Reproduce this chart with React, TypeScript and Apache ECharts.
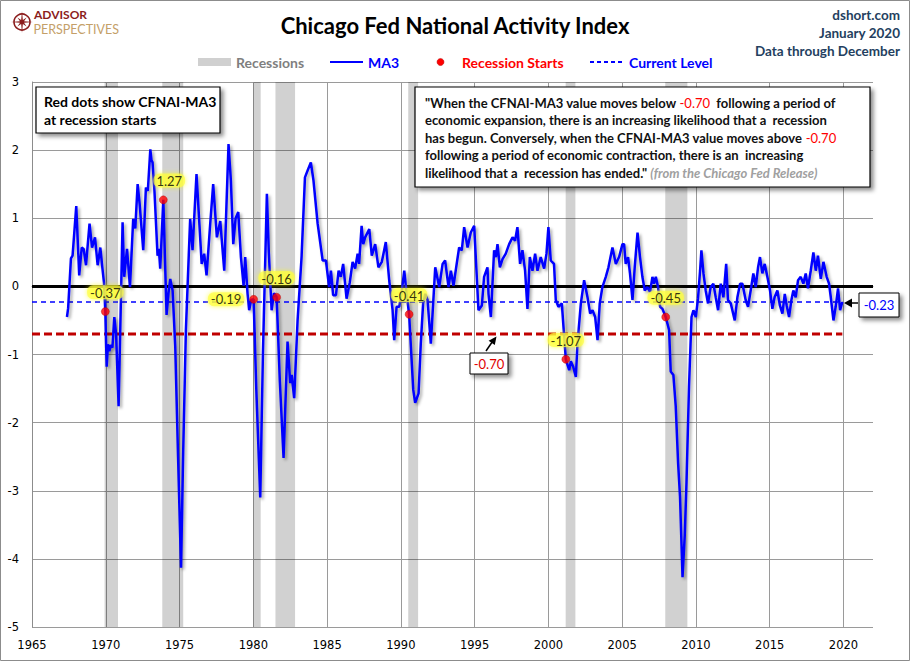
import React, { useEffect, useRef } from "react";
import * as echarts from "echarts";

// ---------- DATA ----------
const ma3Years = [
  1967.37, 1967.45, 1967.64, 1967.75, 1968.0, 1968.2, 1968.37, 1968.5, 1968.66, 1968.9,
  1969.07, 1969.27, 1969.45, 1969.63, 1969.79, 1969.88, 1969.97, 1970.06, 1970.15, 1970.24,
  1970.35, 1970.45, 1970.58, 1970.7, 1970.87, 1971.14, 1971.25, 1971.44, 1971.64, 1971.86,
  1972.0, 1972.16, 1972.3, 1972.54, 1972.72, 1972.85, 1973.02, 1973.1, 1973.17, 1973.3,
  1973.51, 1973.6, 1973.69, 1973.9, 1974.12, 1974.25, 1974.37, 1974.53, 1974.71, 1974.9,
  1975.1, 1975.25, 1975.43, 1975.72, 1975.88, 1976.15, 1976.35, 1976.5, 1976.67, 1976.83,
  1977.08, 1977.28, 1977.53, 1977.76, 1978.03, 1978.32, 1978.48, 1978.64, 1978.8, 1978.98,
  1979.16, 1979.34, 1979.45, 1979.61, 1979.72, 1979.85, 1980.02, 1980.2, 1980.47, 1980.65,
  1980.92, 1981.05, 1981.24, 1981.4, 1981.58, 1981.8, 1982.05, 1982.32, 1982.5, 1982.6,
  1982.77, 1983.0, 1983.27, 1983.5, 1983.68, 1983.9, 1984.08, 1984.36, 1984.7, 1984.92,
  1985.14, 1985.26, 1985.41, 1985.6, 1985.78, 1985.93, 1986.09, 1986.32, 1986.54, 1986.73,
  1986.9, 1987.07, 1987.17, 1987.34, 1987.45, 1987.58, 1987.86, 1988.03, 1988.26, 1988.48,
  1988.71, 1988.98, 1989.21, 1989.44, 1989.55, 1989.71, 1989.89, 1990.07, 1990.23, 1990.39,
  1990.56, 1990.84, 1990.97, 1991.2, 1991.35, 1991.51, 1991.65, 1991.81, 1992.03, 1992.19,
  1992.33, 1992.6, 1992.83, 1993.0, 1993.23, 1993.39, 1993.57, 1993.77, 1993.95, 1994.13,
  1994.29, 1994.52, 1994.74, 1994.97, 1995.26, 1995.49, 1995.64, 1995.87, 1995.94, 1996.1,
  1996.32, 1996.44, 1996.55, 1996.71, 1996.89, 1997.11, 1997.34, 1997.57, 1997.74, 1997.9,
  1998.08, 1998.24, 1998.42, 1998.58, 1998.74, 1998.92, 1999.1, 1999.26, 1999.48, 1999.71,
  1999.87, 2000.0, 2000.16, 2000.38, 2000.5, 2000.68, 2000.91, 2001.07, 2001.18, 2001.41,
  2001.52, 2001.68, 2001.86, 2001.97, 2002.2, 2002.42, 2002.65, 2002.83, 2002.99, 2003.17,
  2003.33, 2003.48, 2003.66, 2003.89, 2004.07, 2004.34, 2004.57, 2004.79, 2005.02, 2005.13,
  2005.24, 2005.4, 2005.53, 2005.7, 2005.85, 2006.04, 2006.21, 2006.37, 2006.53, 2006.71,
  2006.89, 2007.05, 2007.16, 2007.28, 2007.43, 2007.57, 2007.73, 2007.95, 2008.18, 2008.29,
  2008.47, 2008.63, 2008.79, 2008.92, 2009.09, 2009.24, 2009.36, 2009.53, 2009.7, 2009.83,
  2009.99, 2010.14, 2010.28, 2010.37, 2010.51, 2010.66, 2010.82, 2011.0, 2011.18, 2011.34,
  2011.5, 2011.68, 2011.86, 2012.05, 2012.17, 2012.36, 2012.63, 2012.81, 2012.99, 2013.15,
  2013.37, 2013.53, 2013.71, 2013.89, 2014.05, 2014.21, 2014.34, 2014.5, 2014.66, 2014.84,
  2015.02, 2015.18, 2015.33, 2015.52, 2015.69, 2015.86, 2016.02, 2016.15, 2016.31, 2016.47,
  2016.6, 2016.76, 2016.92, 2017.1, 2017.28, 2017.44, 2017.59, 2017.78, 2017.96, 2018.12,
  2018.27, 2018.46, 2018.64, 2018.86, 2019.02, 2019.14, 2019.32, 2019.47, 2019.63, 2019.77,
  2019.92,
];

const ma3Values = [
  -0.45, -0.32, 0.41, 0.45, 1.18, 0.16, 0.57, 0.55, 0.31, 0.92,
  0.57, 0.72, 0.31, 0.57, 0.23, 0.05, -0.37, -1.18, -0.85, -0.95,
  -0.86, -0.9, -0.45, -0.7, -1.76, 0.94, 0.14, 0.55, -0.01, 0.99,
  0.85, 1.5, 1.2, 0.53, 1.45, 1.4, 2.01, 1.85, 1.82, 1.4,
  0.45, 0.55, 0.26, 1.27, -0.42, -0.1, 0.11, -0.06, -0.89, -2.5,
  -4.13, -2.4, -0.64, 0.99, 0.53, 1.65, 0.9, 0.33, 0.48, 0.16,
  0.92, 1.5, 0.72, 0.96, 0.23, 2.09, 1.55, 0.62, 1.0, 1.09,
  0.43, 0.01, 0.43, -0.11, -0.35, -0.2, -0.19, -1.5, -3.1, -1.0,
  1.36, 0.5, -0.35, -0.1, -0.16, -1.4, -2.52, -0.81, -1.42, -1.3,
  -1.64, -0.5, 0.43, 1.6, 1.7, 1.82, 1.55, 0.92, 0.38, 0.38,
  -0.01, 0.23, -0.13, -0.13, 0.23, 0.14, 0.33, -0.18, 0.06, 0.36,
  0.26, 0.48, 0.33, 0.89, 0.62, 0.72, 0.84, 0.45, 0.62, 0.28,
  0.36, 0.65, 0.09, -0.35, -0.79, -0.3, -0.3, -0.06, 0.23, -0.11,
  -0.41, -1.52, -1.71, -1.57, -0.84, -0.25, -0.11, -0.2, -0.84, -0.25,
  0.28, -0.01, 0.33, 0.38, -0.01, 0.23, 0.01, 0.31, 0.57, 0.53,
  0.87, 0.57, 0.79, 0.89, -0.35, -0.28, 0.14, 0.28, -0.11, -0.45,
  0.53, 0.43, 0.62, 0.28, 0.4, 0.48, 0.62, 0.72, 0.67, 0.87,
  0.33, 0.53, 0.23, -0.33, 0.43, 0.23, 0.48, 0.23, 0.43, 0.26,
  0.48, 0.87, 0.38, 0.33, -0.2, -0.3, -0.25, -0.74, -1.07, -1.23,
  -1.1, -1.18, -1.33, -0.84, -0.25, 0.09, -0.16, -0.4, -0.35, -0.45,
  -0.79, -0.25, -0.01, 0.14, 0.28, 0.57, 0.33, 0.43, 0.62, 0.62,
  0.33, 0.43, 0.19, -0.2, 0.28, 0.79, 0.43, 0.14, -0.06, -0.01,
  -0.08, 0.14, 0.04, 0.14, -0.01, -0.3, -0.33, -0.45, -0.64, -1.25,
  -1.3, -1.76, -2.59, -3.08, -4.27, -3.66, -2.88, -1.47, -0.45, -0.35,
  -0.45, -0.18, 0.23, 0.53, 0.19, -0.06, -0.25, -0.01, 0.04, -0.16,
  -0.35, 0.04, -0.16, 0.33, -0.2, -0.25, -0.5, -0.16, 0.04, 0.04,
  -0.2, -0.3, -0.06, 0.19, -0.01, 0.28, 0.43, 0.19, 0.33, 0.14,
  -0.06, -0.33, -0.16, -0.06, -0.28, -0.4, -0.11, -0.28, -0.45, -0.2,
  -0.06, -0.16, 0.09, 0.14, 0.04, 0.19, -0.03, 0.23, 0.5, 0.23,
  0.45, 0.11, 0.36, 0.14, 0.04, -0.16, -0.5, -0.3, -0.03, -0.35,
  -0.23,
];

const recessionStartYears = [1969.97, 1973.9, 1980.02, 1981.58, 1990.56, 2001.18, 2007.95];
const recessionStartValues = [-0.37, 1.27, -0.19, -0.16, -0.41, -1.07, -0.45];

const recessionStarts = [1969.92, 1973.83, 1980.0, 1981.5, 1990.5, 2001.17, 2007.92];
const recessionEnds = [1970.83, 1975.25, 1980.5, 1982.83, 1991.17, 2001.83, 2009.42];

const thresholdLevel = -0.7;
const currentLevel = -0.23;

const xMin = 1965;
const xMax = 2022;
const xStep = 5;
const yMin = -5;
const yMax = 3;
const yStep = 1;

const titleText = "Chicago Fed National Activity Index";
const sourceLines = ["dshort.com", "January 2020", "Data through December"];
const legendNames = ["Recessions", "MA3", "Recession Starts", "Current Level"];

// ---------- STYLE ----------
const FONT = 'Lato, "Noto Sans", "Liberation Sans", sans-serif';
const AXIS_FONT = '"DejaVu Sans", "Liberation Sans", sans-serif';

function compassStar(cx: number, cy: number) {
  const pts: number[][] = [];
  for (let i = 0; i < 16; i++) {
    const a = (i * Math.PI) / 8 - Math.PI / 2;
    let r = 2.2;
    if (i % 4 === 0) r = 11;
    else if (i % 2 === 0) r = 6.5;
    pts.push([cx + r * Math.cos(a), cy + r * Math.sin(a)]);
  }
  return pts;
}

export default function App() {
  const ref = useRef<HTMLDivElement>(null);

  useEffect(() => {
    document.body.style.margin = "0";
    if (!ref.current) return;
    const chart = echarts.init(ref.current, null, { renderer: "svg" });

    const lastYear = ma3Years[ma3Years.length - 1];
    const ma3Data = ma3Years.map((y, i) => [y, ma3Values[i]]);

    const boxShadow = {
      shadowBlur: 4,
      shadowOffsetX: 3,
      shadowOffsetY: 3,
      shadowColor: "rgba(0,0,0,0.45)",
    };

    const quoteLines =
      '{b|"When the CFNAI-MA3 value moves below }{r|' + thresholdLevel.toFixed(2) + '}{b|  following a period of}\n' +
      "{b|economic expansion, there is an increasing likelihood that a  recession}\n" +
      "{b|has begun. Conversely, when the CFNAI-MA3 value moves above }{r|" + thresholdLevel.toFixed(2) + "}\n" +
      "{b|following a period of economic contraction, there is an  increasing}\n" +
      '{b|likelihood that a  recession has ended." }{g|(from the Chicago Fed Release)}';

    const legendY = 62;

    const option: any = {
      animation: false,
      backgroundColor: "#ffffff",
      grid: { left: 32, right: 37, top: 82, bottom: 34, containLabel: false },
      xAxis: {
        type: "value",
        min: xMin,
        max: xMax,
        interval: xStep,
        axisLine: { show: true, lineStyle: { color: "#8c8c8c", width: 1 } },
        axisTick: { show: false },
        axisLabel: {
          color: "#000",
          fontFamily: AXIS_FONT,
          fontSize: 11.5,
          margin: 12,
          showMaxLabel: false,
          formatter: (v: number) => (v % xStep === 0 ? String(v) : ""),
        },
        splitLine: {
          show: true,
          showMaxLine: false,
          lineStyle: { color: "#9a9a9a", width: 1 },
        },
      },
      yAxis: {
        type: "value",
        min: yMin,
        max: yMax,
        interval: yStep,
        axisLine: { show: true, lineStyle: { color: "#8c8c8c", width: 1 } },
        axisTick: { show: false },
        axisLabel: {
          color: "#000",
          fontFamily: AXIS_FONT,
          fontSize: 11.5,
          margin: 13,
          formatter: (v: number) => String(v),
        },
        splitLine: { show: true, lineStyle: { color: "#9a9a9a", width: 1 } },
      },
      series: [
        {
          name: "Recessions",
          type: "line",
          data: [],
          z: 1,
          silent: true,
          markArea: {
            silent: true,
            itemStyle: { color: "rgba(0,0,0,0.18)" },
            data: recessionStarts.map((s, i) => [{ xAxis: s }, { xAxis: recessionEnds[i] }]),
          },
        },
        {
          name: "Zero",
          type: "line",
          data: [[xMin, 0], [xMax, 0]],
          symbol: "none",
          z: 3,
          silent: true,
          lineStyle: { color: "#000", width: 3 },
        },
        {
          name: "Threshold",
          type: "line",
          data: [[xMin, thresholdLevel], [lastYear, thresholdLevel]],
          symbol: "none",
          z: 3,
          silent: true,
          lineStyle: { color: "#C00000", width: 3, type: [8, 4] },
        },
        {
          name: "Current Level",
          type: "line",
          data: [[xMin, currentLevel], [lastYear, currentLevel]],
          symbol: "none",
          z: 3,
          silent: true,
          lineStyle: { color: "#0000FF", width: 1.5, type: [5, 4] },
        },
        {
          name: "MA3",
          type: "line",
          data: ma3Data,
          symbol: "none",
          z: 4,
          lineStyle: {
            color: "#0000FF",
            width: 2.5,
            shadowColor: "rgba(0,0,0,0.35)",
            shadowBlur: 3,
            shadowOffsetX: 2,
            shadowOffsetY: 2,
          },
        },
        {
          name: "Recession Starts",
          type: "scatter",
          z: 6,
          symbolSize: 8,
          itemStyle: { color: "#FF0000", borderColor: "#B00000", borderWidth: 0.5 },
          data: recessionStartYears.map((y, i) => ({
            value: [y, recessionStartValues[i]],
            label: {
              position: i === 2 ? "left" : "top",
              distance: i === 2 ? 5 : 8,
              offset: i === 1 ? [6, 0] : [0, 0],
            },
          })),
          label: {
            show: true,
            distance: 8,
            formatter: (p: any) => Number(p.value[1]).toFixed(2),
            color: "#000",
            fontFamily: FONT,
            fontSize: 13,
            backgroundColor: "rgba(255,255,60,0.85)",
            borderRadius: 6,
            padding: [1, 3, 0, 3],
            shadowBlur: 5,
            shadowColor: "rgba(255,255,0,0.9)",
          },
        },
      ],
      graphic: [
        // outer border
        {
          type: "rect",
          silent: true,
          z: 100,
          shape: { x: 0.5, y: 0.5, width: 909, height: 660 },
          style: { fill: "none", stroke: "#8c8c8c", lineWidth: 1 },
        },
        // logo
        {
          type: "circle",
          shape: { cx: 22, cy: 22, r: 8 },
          style: { fill: "none", stroke: "#8B1C1C", lineWidth: 1.6 },
        },
        {
          type: "polygon",
          shape: { points: compassStar(22, 22) },
          style: { fill: "#8B1C1C" },
        },
        {
          type: "text",
          x: 34,
          y: 14.5,
          style: {
            text: "ADVISOR",
            fill: "#8B1C1C",
            font: "bold 12px " + FONT,
            verticalAlign: "middle",
          },
        },
        {
          type: "text",
          x: 33.5,
          y: 29,
          style: {
            text: "PERSPECTIVES",
            fill: "#C4A068",
            font: "12.5px " + FONT,
            verticalAlign: "middle",
          },
        },
        // title
        {
          type: "text",
          x: 455,
          y: 25,
          style: {
            text: titleText,
            fill: "#000",
            font: "bold 22px " + FONT,
            align: "center",
            verticalAlign: "middle",
          },
        },
        // source lines
        ...sourceLines.map((t, i) => ({
          type: "text",
          x: 900,
          y: 15 + i * 18,
          style: {
            text: t,
            fill: "#243F60",
            font: "bold 13.5px " + FONT,
            align: "right",
            verticalAlign: "middle",
          },
        })),
        // legend
        {
          type: "rect",
          shape: { x: 198, y: legendY - 4, width: 33, height: 8 },
          style: { fill: "#D0D0D0" },
        },
        {
          type: "text",
          x: 236,
          y: legendY,
          style: { text: legendNames[0], fill: "#7F7F7F", font: "bold 14px " + FONT, verticalAlign: "middle" },
        },
        {
          type: "line",
          shape: { x1: 330, y1: legendY, x2: 363, y2: legendY },
          style: { stroke: "#0000FF", lineWidth: 2 },
        },
        {
          type: "text",
          x: 368,
          y: legendY,
          style: { text: legendNames[1], fill: "#0000FF", font: "bold 14px " + FONT, verticalAlign: "middle" },
        },
        {
          type: "circle",
          shape: { cx: 440.5, cy: legendY, r: 3.5 },
          style: { fill: "#FF0000", stroke: "#B00000", lineWidth: 0.5 },
        },
        {
          type: "text",
          x: 462,
          y: legendY,
          style: { text: legendNames[2], fill: "#FF0000", font: "bold 14px " + FONT, verticalAlign: "middle" },
        },
        {
          type: "line",
          shape: { x1: 590, y1: legendY, x2: 625, y2: legendY },
          style: { stroke: "#0000FF", lineWidth: 2, lineDash: [4, 3] },
        },
        {
          type: "text",
          x: 629,
          y: legendY,
          style: { text: legendNames[3], fill: "#0000FF", font: "bold 14px " + FONT, verticalAlign: "middle" },
        },
        // red dots note box
        {
          type: "rect",
          z: 10,
          shape: { x: 36, y: 87, width: 184, height: 46 },
          style: { fill: "#fff", stroke: "#000", lineWidth: 1.2, ...boxShadow },
        },
        {
          type: "text",
          z: 11,
          x: 44,
          y: 110,
          style: {
            text: "Red dots show CFNAI-MA3\nat recession starts",
            fill: "#000",
            font: "bold 14px " + FONT,
            lineHeight: 18,
            verticalAlign: "middle",
          },
        },
        // quote box
        {
          type: "rect",
          z: 10,
          shape: { x: 415, y: 87, width: 455, height: 100 },
          style: { fill: "#fff", stroke: "#000", lineWidth: 1.2, ...boxShadow },
        },
        {
          type: "text",
          z: 11,
          x: 425,
          y: 94,
          style: {
            text: quoteLines,
            rich: {
              b: { fill: "#111", font: "bold 13px " + FONT, lineHeight: 17.5 },
              r: { fill: "#FF0000", font: "13px " + FONT, lineHeight: 17.5 },
              g: { fill: "#A0A0A0", font: "italic bold 13px " + FONT, lineHeight: 17.5 },
            },
          },
        },
        // current level annotation
        {
          type: "line",
          z: 10,
          shape: { x1: 858, y1: 303, x2: 849, y2: 303 },
          style: { stroke: "#000", lineWidth: 1.5 },
        },
        {
          type: "polygon",
          z: 10,
          shape: { points: [[844, 303], [852, 298.5], [852, 307.5]] },
          style: { fill: "#000" },
        },
        {
          type: "rect",
          z: 10,
          shape: { x: 859, y: 293, width: 40, height: 24 },
          style: { fill: "#fff", stroke: "#000", lineWidth: 1, ...boxShadow },
        },
        {
          type: "text",
          z: 11,
          x: 879,
          y: 305,
          style: {
            text: currentLevel.toFixed(2),
            fill: "#0000FF",
            font: "13px " + FONT,
            align: "center",
            verticalAlign: "middle",
          },
        },
        // threshold annotation
        {
          type: "line",
          z: 10,
          shape: { x1: 486, y1: 351, x2: 492.5, y2: 341.5 },
          style: { stroke: "#000", lineWidth: 1.5 },
        },
        {
          type: "polygon",
          z: 10,
          shape: { points: [[496.5, 336.5], [494.8, 345], [488.6, 340.8]] },
          style: { fill: "#000" },
        },
        {
          type: "rect",
          z: 10,
          shape: { x: 470, y: 353, width: 38, height: 21 },
          style: { fill: "#fff", stroke: "#000", lineWidth: 1, ...boxShadow },
        },
        {
          type: "text",
          z: 11,
          x: 489,
          y: 364,
          style: {
            text: thresholdLevel.toFixed(2),
            fill: "#E00000",
            font: "13px " + FONT,
            align: "center",
            verticalAlign: "middle",
          },
        },
      ],
    };

    chart.setOption(option);
    return () => {
      chart.dispose();
    };
  }, []);

  return <div ref={ref} style={{ width: 910, height: 661 }} />;
}
